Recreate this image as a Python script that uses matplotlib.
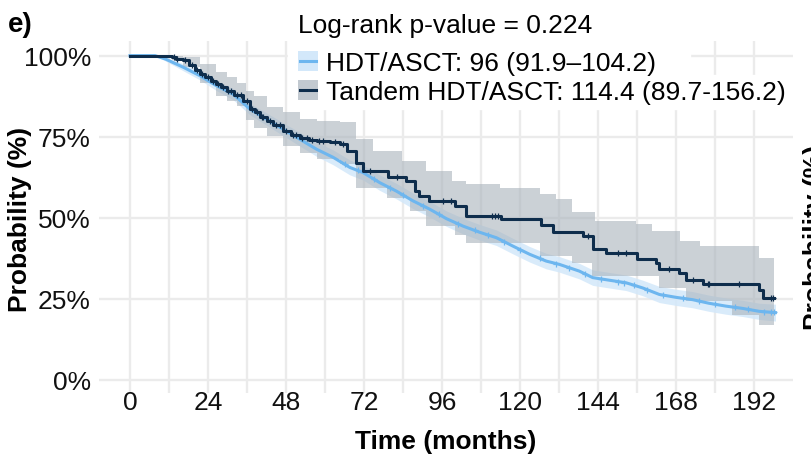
import numpy as np
import matplotlib
matplotlib.use("Agg")
import matplotlib.pyplot as plt
from matplotlib.patches import Rectangle
from matplotlib.lines import Line2D

plt.rcParams['font.family'] = ['Liberation Sans', 'DejaVu Sans']

# ---- Kaplan-Meier estimates (months, survival %) ----
hdt_time = [0, 7.7, 11, 16.4, 21.5, 26.6, 31.7, 36.9, 42, 47.1, 52.2, 57.4, 62.5, 67.6,
            71.7, 76.8, 81.9, 87, 92.2, 97.3, 102.4, 107.5, 112.7, 117.8, 122.9, 128,
            132, 138.2, 142.3, 147.4, 152.6, 157.7, 162.8, 168, 173, 178, 183.3, 188.4,
            193.5, 198.5]
hdt_surv = [100, 100, 98.9, 96.4, 93.8, 90.7, 88.1, 83.5, 80.4, 77.3, 74.2, 71.1, 68.6, 65.5,
            63.9, 60.8, 58.2, 55.2, 52.6, 49.7, 47.4, 45.5, 43.8, 41.2, 38.7, 36.6,
            35.6, 33.5, 31.5, 30.7, 29.9, 28.3, 26.3, 25.4, 24.7, 23.6, 22.7, 22.0,
            21.1, 20.7]
hdt_upper = [100, 100, 99.4, 97.5, 95.1, 92.2, 89.8, 85.3, 82.3, 79.3, 76.3, 73.3, 70.9, 67.8,
             66.2, 63.2, 60.6, 57.6, 55.0, 52.1, 49.8, 47.9, 46.2, 43.6, 41.1, 39.0,
             38.0, 35.9, 33.9, 33.1, 32.3, 30.7, 28.8, 27.9, 27.2, 26.1, 25.2, 24.5,
             23.6, 23.3]
hdt_lower = [100, 100, 98.3, 95.3, 92.5, 89.2, 86.4, 81.7, 78.5, 75.3, 72.1, 68.9, 66.3, 63.2,
             61.6, 58.4, 55.8, 52.8, 50.2, 47.3, 45.0, 43.1, 41.4, 38.8, 36.3, 34.2,
             33.2, 31.1, 29.1, 28.3, 27.5, 25.9, 23.8, 22.9, 22.2, 21.1, 20.2, 19.5,
             18.6, 18.1]
hdt_censor = [66, 70, 75, 80, 84, 90, 95, 101, 106, 110, 115, 120, 126, 131, 135, 140,
              145, 150, 152, 155, 159, 164, 170, 175, 180, 186, 190, 195, 197, 198]

tandem_time = [0, 12.8, 14, 16.4, 18, 20, 21.5, 23, 25, 26.6, 28, 29.7, 32, 34.8, 36.9,
               38.5, 40, 42, 44, 47.1, 49.5, 52.2, 55, 57.4, 61.4, 64.5, 66.6, 69.6,
               71.7, 79.4, 85, 87.6, 89, 92, 99.8, 103.4, 114.2, 126.5, 130, 139.3,
               142.3, 146.4, 155.9, 161.8, 162.8, 168.7, 171, 176.1, 193.5, 194.6, 197.9]
tandem_surv = [100, 99.5, 99, 98.5, 97, 95.5, 94.3, 93.5, 92.2, 91.2, 90.2, 89.2, 88, 86.1,
               83.5, 82.5, 81.2, 79.9, 78.5, 76.8, 75.6, 74.7, 74.0, 73.7, 73.2, 72.7,
               70.6, 67.0, 64.4, 62.4, 61.3, 58.2, 56.7, 55.2, 53.6, 50.5, 49.5, 47.6,
               45.6, 44.3, 40.2, 39.1, 37.3, 36.1, 34.3, 33.0, 30.9, 29.6, 27.8, 25.1,
               25.1]
tandem_band_time = [0, 12.8, 16.4, 21.5, 26.6, 29.7, 32.8, 35.8, 38, 42, 47.1, 52.2, 57.4,
                    64.5, 69.6, 74.7, 78.9, 83.8, 86, 91, 99, 99.8, 103.4, 113.7, 126,
                    131, 136, 142, 143, 155.5, 160.6, 162.8, 169, 171, 175.2, 185, 193.5,
                    197.9]
tandem_upper = [100, 100, 99.6, 97.5, 95.0, 93.5, 91.7, 89.2, 87.5, 84.0, 82.5, 80.4, 79.9,
                79.5, 74.2, 70.6, 70.6, 67.5, 67.5, 64.4, 61.3, 61.3, 60.3, 59.3, 57.2,
                55.7, 51.6, 51.6, 49.0, 47.9, 45.9, 45.9, 42.8, 42.8, 41.2, 41.2, 37.6,
                37.6]
tandem_lower = [100, 98.5, 96.4, 91.7, 87.6, 86.0, 84.5, 80.0, 77.8, 75.3, 72.2, 70.1, 68.0,
                66.5, 59.3, 59.3, 56.2, 56.2, 52.1, 47.4, 47.4, 44.8, 42.3, 42.3, 38.2,
                38.2, 36.0, 32.0, 32.0, 32.0, 32.0, 28.4, 28.4, 24.2, 24.2, 20.1, 17.0,
                17.0]
tandem_censor = [13.5, 14.5, 17, 19, 20.5, 22, 24, 25.5, 27, 28.5, 30, 31, 33, 34, 36, 37.5,
                 39, 40.5, 41, 43, 45, 46, 48, 50, 51, 53, 54.5, 56, 58, 59.5, 63, 65.5,
                 73.7, 82, 96.3, 98.8, 111.4, 112.1, 113.1, 140.8, 150, 152.6, 165.9, 173,
                 177.7, 178.2, 187.4, 197.1, 197.6]

x_ticks = [0, 24, 48, 72, 96, 120, 144, 168, 192]
y_ticks = [0, 25, 50, 75, 100]
y_ticklabels = ["0%", "25%", "50%", "75%", "100%"]

legend_title = "Log-rank p-value = 0.224"
legend_labels = ["HDT/ASCT: 96 (91.9\u2013104.2)", "Tandem HDT/ASCT: 114.4 (89.7-156.2)"]

light_line = "#6DB6EF"
light_band = "#D3E8FA"
dark_line = "#0E2D4C"
dark_band = "#A9B3BC"
FS = 19

W, H = 812, 460
fig = plt.figure(figsize=(W / 100, H / 100), dpi=100)


def fx(px):
    return px / W


def fy(py):
    return 1 - py / H


ax_l, ax_r, ax_t, ax_b = 99.3, 792.7, 41.7, 394.0
ax = fig.add_axes([fx(ax_l), fy(ax_b), fx(ax_r - ax_l), (ax_b - ax_t) / H])
ax.set_xlim(-9.44, 203.8)
ax.set_ylim(-4.1, 104.6)

# grid
grid_kw = dict(color="#EBEBEB", lw=1.7, zorder=0)
for xv in np.arange(0, 204, 12):
    ax.axvline(xv, **grid_kw)
for yv in y_ticks:
    ax.axhline(yv, **grid_kw)

# confidence bands
ax.fill_between(hdt_time, hdt_lower, hdt_upper, color=light_band, alpha=0.85, lw=0, zorder=1)
ax.fill_between(tandem_band_time, tandem_lower, tandem_upper, step="post",
                color=dark_band, alpha=0.6, lw=0, zorder=2)

# survival curves
ax.plot(hdt_time, hdt_surv, color=light_line, lw=2.2, zorder=3)
ax.step(tandem_time, tandem_surv, where="post", color=dark_line, lw=2.2, zorder=4)

# censoring marks
hc = np.interp(hdt_censor, hdt_time, hdt_surv)
ax.plot(hdt_censor, hc, ls="none", marker="+", ms=5, mew=0.9, color=light_line, zorder=3)
tt = np.array(tandem_time)
ts = np.array(tandem_surv)
idx = np.searchsorted(tt, tandem_censor, side="right") - 1
ax.plot(tandem_censor, ts[idx], ls="none", marker="+", ms=5, mew=0.9, color=dark_line, zorder=4)

for s in ax.spines.values():
    s.set_visible(False)
ax.set_xticks(x_ticks)
ax.set_yticks(y_ticks)
ax.set_yticklabels(y_ticklabels)
ax.tick_params(length=0, labelsize=FS, labelcolor="#111111")
ax.tick_params(axis="x", pad=-2.5)
ax.tick_params(axis="y", pad=6)

# axis titles
fig.text(fx(446), fy(442), "Time (months)", ha="center", va="center",
         fontsize=FS, fontweight="bold")
fig.text(fx(20), fy(219), "Probability (%)", ha="center", va="center",
         rotation=90, fontsize=FS, fontweight="bold")
fig.text(fx(8), fy(32), "e)", ha="left", va="baseline", fontsize=20, fontweight="bold")
# neighbouring panel's axis title, cut by the figure edge
fig.text(fx(803), fy(237), "Probability (%)", ha="left", va="center",
         rotation=90, fontsize=FS, fontweight="bold")

# legend
fig.text(fx(298), fy(33), legend_title, ha="left", va="baseline", fontsize=FS)
fig.patches.append(Rectangle((fx(288), fy(76)), fx(690 - 288), (76 - 42) / H,
                             transform=fig.transFigure, color="white", zorder=5))
fig.patches.append(Rectangle((fx(288), fy(110)), fx(800 - 288), (110 - 76) / H,
                             transform=fig.transFigure, color="white", zorder=5))
key_rows = [(62, light_band, light_line, 1.0), (91, dark_band, dark_line, 0.7)]
for (cy, band_c, line_c, a), label in zip(key_rows, legend_labels):
    fig.patches.append(Rectangle((fx(298), fy(cy + 10)), fx(20), 20 / H,
                                 transform=fig.transFigure, color=band_c, alpha=a,
                                 lw=0, zorder=6))
    fig.lines.append(Line2D([fx(300), fx(316)], [fy(cy), fy(cy)],
                            transform=fig.transFigure, color=line_c, lw=2.2, zorder=7))
    fig.text(fx(326), fy(cy + 9), label, ha="left", va="baseline", fontsize=FS, zorder=8)

fig.savefig("out.png", dpi=100)
